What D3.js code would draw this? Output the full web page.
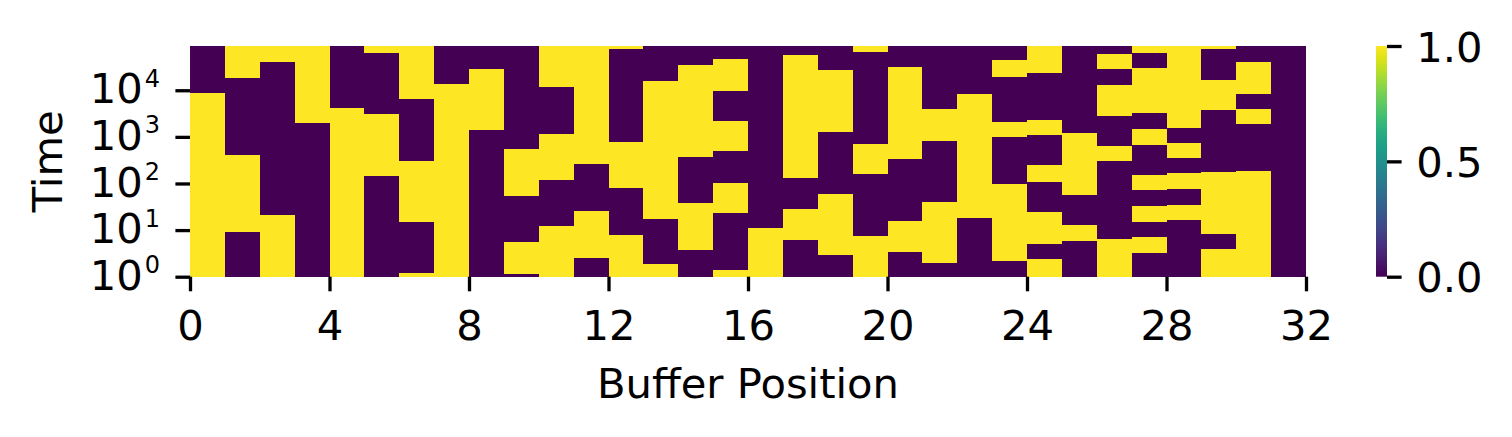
<!DOCTYPE html>
<html>
<head>
<meta charset="utf-8">
<script src="https://cdn.jsdelivr.net/npm/d3@7"></script>
<style>
  html, body { margin: 0; padding: 0; background: #fff; }
  svg { display: block; }
  text { font-family: "DejaVu Sans", sans-serif; fill: #000; }
</style>
</head>
<body>
<svg id="chart" width="1512" height="437"></svg>
<script>
// ---- data ----
const bufferPositions = d3.range(32);
// state of each buffer cell at t = 1
const initialState = [1,0,1,0,1,0,1,1,0,0,1,0,1,1,0,1,1,0,0,1,0,0,0,0,1,0,1,0,0,1,1,0];
// times at which each cell flips its bit
const flipTimes = [
  [8700],
  [9.08, 407, 18200],
  [20.9, 40700],
  [2000],
  [4170],
  [145, 3090, 63100],
  [1.2, 14.8, 302, 6460],
  [13500],
  [1410, 28800],
  [1.14, 5.55, 53.7, 550],
  [12.3, 117, 1150, 11700],
  [2.51, 25.7, 263],
  [7.83, 79.4, 776, 76700],
  [1.86, 17.4, 15800],
  [3.72, 38, 372, 34700],
  [1.39, 23.4, 102, 501, 2190, 9550, 46800],
  [11.0],
  [6.12, 28.2, 132, 57500],
  [2.92, 58.9, 1260, 26900],
  [7.46, 158, 708, 66100],
  [3.38, 15.5, 339, 31600],
  [1.96, 39.8, 813, 3980],
  [18.2, 8320],
  [2.17, 97.7, 1000, 2090, 19100, 44700],
  [2.39, 5.01, 24.5, 107, 251, 1100, 2290, 23400],
  [5.82, 12.9, 56.2, 1200],
  [6.46, 302, 631, 2820, 12900, 28800, 60300],
  [3.22, 7.10, 14.8, 33.1, 72.4, 151, 676, 1480, 3240, 30200, 63100],
  [16.6, 34.7, 75.9, 166, 355, 741, 1550],
  [3.93, 8.24, 178, 3800, 16600, 76700],
  [186, 1910, 3980, 8320, 40700],
  []
];
const timeStart = 1;
const timeEnd = 89000;
const xTicks = [0, 4, 8, 12, 16, 20, 24, 28, 32];
const yTicks = [1, 10, 100, 1000, 10000];
const yTickExponents = ["0", "1", "2", "3", "4"];
const colorTicks = [0, 0.5, 1];
const colorTickLabels = ["0.0", "0.5", "1.0"];
const xLabel = "Buffer Position";
const yLabel = "Time";

// ---- layout ----
const svg = d3.select("#chart");
const pLeft = 190, pRight = 1306, pTop = 46, pBottom = 276.7;
const fs = 41.7, fsSup = 24, tickLen = 14.6, tickW = 3.3;

const x = d3.scaleLinear().domain([0, 32]).range([pLeft, pRight]);
const y = d3.scaleLog().domain([timeStart, timeEnd]).range([pBottom, pTop]);
const color = d3.scaleSequential(d3.interpolateViridis).domain([0, 1]);

// build segments
const cells = [];
bufferPositions.forEach((p, i) => {
  const bounds = [timeStart, ...flipTimes[i], timeEnd];
  let v = initialState[i];
  for (let k = 0; k < bounds.length - 1; k++) {
    cells.push({ pos: p, t0: bounds[k], t1: bounds[k + 1], v });
    v = 1 - v;
  }
});

svg.append("g")
  .attr("shape-rendering", "crispEdges")
  .selectAll("rect").data(cells).join("rect")
  .attr("x", d => x(d.pos))
  .attr("width", d => x(d.pos + 1) - x(d.pos))
  .attr("y", d => y(d.t1))
  .attr("height", d => y(d.t0) - y(d.t1))
  .attr("fill", d => color(d.v));

// x axis
const xAxis = d3.axisBottom(x).tickValues(xTicks).tickSize(tickLen).tickPadding(0).tickFormat(d3.format("d"));
const gx = svg.append("g").attr("transform", `translate(0,${pBottom})`).call(xAxis);
gx.select(".domain").remove();
gx.selectAll(".tick line").attr("stroke", "#000").attr("stroke-width", tickW);
gx.selectAll(".tick text")
  .attr("font-size", fs).attr("font-family", "DejaVu Sans")
  .attr("dy", null).attr("y", 63.3);

// y axis
const yAxis = d3.axisLeft(y).tickValues(yTicks).tickSize(tickLen).tickFormat(() => "");
const gy = svg.append("g").attr("transform", `translate(${pLeft},0)`).call(yAxis);
gy.select(".domain").remove();
gy.selectAll(".tick line").attr("stroke", "#000").attr("stroke-width", tickW);
gy.selectAll(".tick text").each(function (d, i) {
  const t = d3.select(this)
    .attr("x", -30).attr("dy", null).attr("y", 12.7)
    .attr("text-anchor", "end").attr("font-size", fs).attr("font-family", "DejaVu Sans");
  t.append("tspan").text("10");
  t.append("tspan").attr("font-size", fsSup).attr("dy", -16.7).attr("dx", 2).text(yTickExponents[i]);
});

// labels
svg.append("text").attr("x", (pLeft + pRight) / 2).attr("y", 398)
  .attr("text-anchor", "middle").attr("font-size", fs).text(xLabel);
svg.append("text")
  .attr("transform", `translate(62,${(pTop + pBottom) / 2}) rotate(-90)`)
  .attr("text-anchor", "middle").attr("font-size", fs).text(yLabel);

// colorbar
const cbX0 = 1376, cbX1 = 1387;
const cy = d3.scaleLinear().domain([0, 1]).range([pBottom, pTop]);
const defs = svg.append("defs");
const grad = defs.append("linearGradient").attr("id", "cbgrad")
  .attr("x1", 0).attr("y1", 1).attr("x2", 0).attr("y2", 0);
d3.range(0, 1.0001, 0.05).forEach(s => {
  grad.append("stop").attr("offset", s).attr("stop-color", color(s));
});
svg.append("rect").attr("x", cbX0).attr("y", pTop).attr("width", cbX1 - cbX0)
  .attr("height", pBottom - pTop).attr("fill", "url(#cbgrad)");
const cAxis = d3.axisRight(cy).tickValues(colorTicks).tickSize(tickLen).tickPadding(14.6)
  .tickFormat((d, i) => colorTickLabels[i]);
const gc = svg.append("g").attr("transform", `translate(${cbX1},0)`).call(cAxis);
gc.select(".domain").remove();
gc.selectAll(".tick line").attr("stroke", "#000").attr("stroke-width", tickW);
gc.selectAll(".tick text").attr("font-size", fs).attr("font-family", "DejaVu Sans")
  .attr("dy", null).attr("y", 15);
</script>
</body>
</html>
